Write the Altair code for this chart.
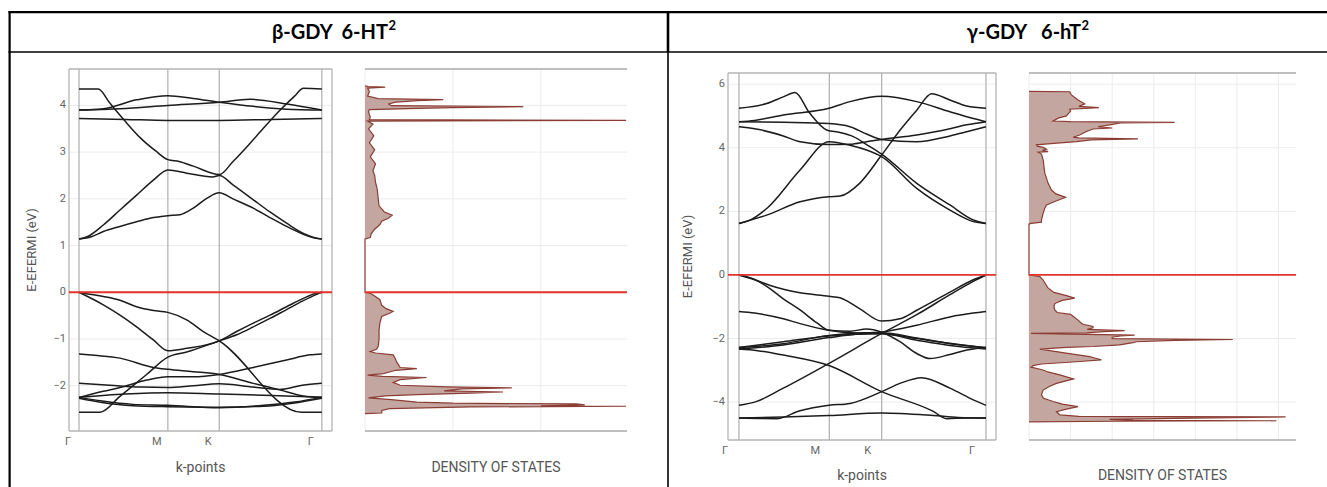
import altair as alt
import pandas as pd

W, H = 1327, 487

# k-path positions (Γ, M, K, Γ) and labels
KPTS = [0.0, 0.577, 0.911, 1.577]
KLAB = ["Γ", "M", "K", "Γ"]

# ---------------- β-GDY 6-HT2 band structure (k, E) ----------------
beta_c1 = [(0, 1.14), (0.08, 1.19), (0.158, 1.3), (0.266, 1.41), (0.374, 1.51), (0.483, 1.6), (0.577, 1.64),
           (0.656, 1.66), (0.742, 1.8), (0.829, 2.01), (0.911, 2.13), (1.0, 2.0), (1.132, 1.8), (1.24, 1.6),
           (1.348, 1.41), (1.457, 1.24), (1.53, 1.16), (1.577, 1.14)]
beta_c2 = [(0, 1.14), (0.06, 1.2), (0.158, 1.44), (0.266, 1.76), (0.374, 2.08), (0.483, 2.4), (0.577, 2.62),
           (0.7, 2.55), (0.868, 2.47), (0.911, 2.5), (1.0, 2.3), (1.132, 1.98), (1.24, 1.72), (1.348, 1.48),
           (1.457, 1.26), (1.53, 1.17), (1.577, 1.14)]
beta_c3 = [(0, 4.35), (0.125, 4.35), (0.2, 4.05), (0.3, 3.66), (0.4, 3.3), (0.5, 3.02), (0.577, 2.84),
           (0.65, 2.8), (0.742, 2.7), (0.911, 2.52), (1.0, 2.8), (1.1, 3.15), (1.2, 3.52), (1.3, 3.88),
           (1.4, 4.2), (1.457, 4.37), (1.577, 4.35)]
beta_c4 = [(0, 3.72), (0.3, 3.7), (0.577, 3.68), (0.911, 3.68), (1.25, 3.7), (1.577, 3.72)]
beta_c5 = [(0, 3.9), (0.266, 3.93), (0.577, 4.0), (0.911, 4.07), (1.11, 4.13), (1.35, 4.03), (1.577, 3.9)]
beta_c6 = [(0, 3.9), (0.158, 3.93), (0.374, 4.12), (0.577, 4.21), (0.742, 4.15), (0.911, 4.07), (1.132, 3.98),
           (1.348, 3.92), (1.577, 3.9)]
beta_v1 = [(0, 0), (0.05, -0.03), (0.158, -0.09), (0.266, -0.17), (0.374, -0.31), (0.483, -0.39), (0.577, -0.43),
           (0.699, -0.59), (0.807, -0.84), (0.911, -1.04), (1.446, -2.57), (1.577, -2.57)]
beta_v2 = [(0, 0), (0.158, -0.27), (0.266, -0.49), (0.374, -0.74), (0.483, -1.02), (0.577, -1.25), (0.699, -1.2),
           (0.911, -1.04), (1.024, -0.84), (1.132, -0.66), (1.24, -0.49), (1.348, -0.31), (1.457, -0.13),
           (1.54, -0.02), (1.577, 0)]
beta_v3 = [(0, -2.57), (0.136, -2.57), (0.266, -2.23), (0.439, -1.76), (0.577, -1.39), (0.699, -1.28),
           (0.911, -1.04), (1.024, -0.91), (1.132, -0.74), (1.24, -0.56), (1.348, -0.37), (1.457, -0.18),
           (1.54, -0.05), (1.577, 0)]
beta_v4 = [(0, -1.32), (0.1, -1.35), (0.266, -1.41), (0.483, -1.61), (0.577, -1.65), (0.742, -1.7), (0.911, -1.76),
           (1.132, -1.95), (1.305, -2.09), (1.457, -2.22), (1.577, -2.25)]
beta_v5 = [(0, -2.25), (0.158, -2.12), (0.266, -2.04), (0.439, -1.88), (0.577, -1.81), (0.742, -1.81),
           (0.911, -1.76), (1.132, -1.61), (1.348, -1.45), (1.5, -1.34), (1.577, -1.32)]
beta_v6 = [(0, -1.95), (0.2, -1.99), (0.4, -2.03), (0.577, -2.04), (0.742, -2.0), (0.911, -1.96), (1.132, -2.03),
           (1.3, -2.08), (1.45, -1.99), (1.577, -1.95)]
beta_v7 = [(0, -2.25), (0.3, -2.18), (0.577, -2.15), (0.911, -2.18), (1.25, -2.21), (1.577, -2.25)]
beta_v8 = [(0, -2.25), (0.15, -2.33), (0.35, -2.4), (0.577, -2.42), (0.911, -2.47), (1.2, -2.42), (1.4, -2.35),
           (1.577, -2.25)]
beta_v9 = [(0, -2.27), (0.15, -2.36), (0.35, -2.43), (0.577, -2.45), (0.911, -2.46), (1.2, -2.44), (1.4, -2.37),
           (1.577, -2.27)]

# ---------------- γ-GDY 6-hT2 band structure (k, E) ----------------
g_c1 = [(0, 1.62), (0.177, 1.88), (0.39, 2.3), (0.575, 2.46), (0.645, 2.48), (0.77, 2.88), (0.911, 3.77),
        (1.028, 4.55), (1.135, 5.18), (1.23, 5.7), (1.347, 5.5), (1.454, 5.31), (1.577, 5.24)]
g_c2 = [(0, 1.62), (0.06, 1.7), (0.177, 2.09), (0.39, 3.3), (0.575, 4.19), (0.709, 4.08), (0.815, 3.93),
        (0.911, 3.72), (1.135, 2.72), (1.347, 2.04), (1.496, 1.68), (1.577, 1.62)]
g_c3 = [(0, 5.24), (0.177, 5.39), (0.283, 5.6), (0.358, 5.74), (0.45, 5.1), (0.56, 4.56), (0.645, 4.48),
        (0.73, 4.35), (0.815, 4.1), (0.911, 3.8), (1.135, 2.88), (1.347, 2.2), (1.496, 1.73), (1.577, 1.62)]
g_c4 = [(0, 4.82), (0.283, 4.8), (0.575, 4.76), (0.709, 4.66), (0.815, 4.43), (0.911, 4.26), (1.135, 4.19),
        (1.347, 4.37), (1.454, 4.5), (1.577, 4.66)]
g_c5 = [(0, 4.82), (0.1, 4.86), (0.283, 5.03), (0.575, 5.24), (0.709, 5.45), (0.911, 5.62), (1.135, 5.45),
        (1.347, 5.13), (1.496, 4.92), (1.577, 4.82)]
g_c6 = [(0, 4.66), (0.1, 4.6), (0.283, 4.37), (0.39, 4.19), (0.575, 4.1), (0.709, 4.11), (0.815, 4.19),
        (0.911, 4.26), (1.135, 4.4), (1.347, 4.6), (1.454, 4.72), (1.577, 4.82)]
g_v1 = [(0, 0), (0.1, -0.15), (0.2, -0.33), (0.39, -0.56), (0.575, -0.67), (0.645, -0.72), (0.77, -1.06),
        (0.911, -1.45), (1.028, -1.38), (1.135, -1.11), (1.347, -0.54), (1.496, -0.15), (1.577, 0)]
g_v2 = [(0, 0), (0.08, -0.1), (0.177, -0.36), (0.283, -0.75), (0.39, -1.1), (0.496, -1.5), (0.575, -1.74),
        (0.709, -1.77), (0.815, -1.7), (0.911, -1.8), (1.028, -2.1), (1.135, -2.47), (1.22, -2.63),
        (1.347, -2.5), (1.454, -2.36), (1.577, -2.28)]
g_v3 = [(0, -1.15), (0.1, -1.2), (0.283, -1.38), (0.39, -1.53), (0.575, -1.74), (0.709, -1.82), (0.911, -1.84),
        (1.135, -2.0), (1.347, -2.16), (1.577, -2.28)]
g_v4 = [(0, -2.28), (0.283, -2.16), (0.575, -1.9), (0.709, -1.84), (0.911, -1.79), (1.135, -1.58),
        (1.347, -1.32), (1.496, -1.2), (1.577, -1.15)]
g_v5 = [(0, -2.28), (0.283, -2.1), (0.575, -1.92), (0.911, -1.85), (1.135, -2.05), (1.347, -2.22), (1.577, -2.33)]
g_v6 = [(0, -2.33), (0.283, -2.2), (0.575, -1.97), (0.911, -1.82), (1.135, -1.98), (1.347, -2.15), (1.577, -2.3)]
g_v7 = [(0, -2.33), (0.12, -2.38), (0.283, -2.52), (0.575, -2.85), (0.911, -3.67), (1.241, -4.29),
        (1.326, -4.52), (1.45, -4.5), (1.577, -4.5)]
g_v8 = [(0, -4.1), (0.1, -4.0), (0.283, -3.56), (0.575, -2.78), (0.911, -1.84), (1.135, -1.25), (1.347, -0.62),
        (1.496, -0.2), (1.577, 0)]
g_v9 = [(0, -4.5), (0.24, -4.52), (0.39, -4.27), (0.575, -4.1), (0.709, -4.04), (0.911, -3.67), (1.028, -3.41),
        (1.166, -3.23), (1.347, -3.56), (1.496, -3.93), (1.577, -4.1)]
g_v10 = [(0, -4.5), (0.283, -4.47), (0.575, -4.42), (0.911, -4.34), (1.241, -4.42), (1.4, -4.48), (1.577, -4.5)]

# ---------------- density of states (E, DOS) ----------------
beta_dos = [(-2.60, 0), (-2.585, 1.9), (-2.53, 1.9), (-2.49, 2.8), (-2.455, 12), (-2.44, 29.7), (-2.43, 20),
            (-2.41, 25), (-2.39, 24), (-2.375, 10), (-2.35, 5.9), (-2.30, 3.0), (-2.26, 0.4), (-2.22, 2.3),
            (-2.19, 5.9), (-2.16, 12), (-2.135, 15.7), (-2.11, 9.0), (-2.07, 11.0), (-2.045, 16.7),
            (-2.025, 9.3), (-1.99, 4.0), (-1.93, 3.2), (-1.87, 4.0), (-1.825, 7.0), (-1.80, 2.0),
            (-1.775, 0.3), (-1.74, 2.1), (-1.67, 3.5), (-1.635, 5.9), (-1.61, 4.0), (-1.55, 3.8), (-1.49, 3.6),
            (-1.40, 3.4), (-1.34, 3.2), (-1.30, 1.2), (-1.27, 0.6), (-1.22, 1.3), (-1.16, 1.5), (-1.0, 1.6),
            (-0.81, 1.6), (-0.65, 1.7), (-0.52, 1.9), (-0.45, 2.8), (-0.41, 3.2), (-0.35, 2.4), (-0.28, 1.9),
            (-0.16, 1.7), (-0.08, 1.1), (-0.02, 0.6), (0.0, 0.0), (1.14, 0.0), (1.17, 0.6), (1.25, 0.7),
            (1.35, 1.1), (1.45, 1.7), (1.52, 1.9), (1.58, 2.6), (1.65, 3.1), (1.72, 2.2), (1.85, 1.6),
            (2.0, 1.5), (2.2, 1.4), (2.35, 1.2), (2.5, 1.1), (2.6, 0.9), (2.75, 1.2), (2.9, 0.6), (3.05, 1.1),
            (3.2, 0.5), (3.35, 1.0), (3.5, 0.4), (3.6, 0.9), (3.665, 0.3), (3.68, 29.7), (3.695, 0.5),
            (3.75, 0.6), (3.8, 0.5), (3.87, 0.4), (3.91, 0.5), (3.935, 6.0), (3.955, 10.0), (3.975, 18.0),
            (3.995, 3.0), (4.03, 2.7), (4.07, 3.5), (4.105, 6.0), (4.125, 8.9), (4.145, 1.5), (4.2, 0.3),
            (4.3, 0.5), (4.37, 0.3), (4.39, 2.3), (4.405, 0.4), (4.42, 0.0)]
g_dos = [(-4.62, 0), (-4.60, 20), (-4.585, 59.5), (-4.57, 25), (-4.54, 19.4), (-4.51, 35), (-4.465, 61.7),
         (-4.445, 12), (-4.40, 7.4), (-4.35, 7.0), (-4.30, 6.6), (-4.22, 9.0), (-4.14, 11.8), (-4.06, 8.0),
         (-3.98, 5.8), (-3.88, 3.5), (-3.77, 3.0), (-3.62, 3.4), (-3.50, 5.0), (-3.41, 6.6), (-3.27, 10.7),
         (-3.14, 7.4), (-3.05, 4.5), (-2.99, 3.4), (-2.90, 0.5), (-2.85, 1.0), (-2.80, 3.0), (-2.73, 11.4),
         (-2.67, 17.4), (-2.62, 16.0), (-2.57, 14.6), (-2.45, 8.5), (-2.38, 5.0), (-2.33, 2.6), (-2.28, 9.0),
         (-2.25, 15.4), (-2.20, 21.8), (-2.13, 25.0), (-2.10, 25.8), (-2.06, 35.0), (-2.03, 49.0), (-2.00, 20.0),
         (-1.96, 20.0), (-1.92, 22.0), (-1.89, 25.4), (-1.86, 10.0), (-1.84, 0.5), (-1.82, 13.8), (-1.78, 18.0),
         (-1.75, 23.0), (-1.71, 14.0), (-1.66, 15.4), (-1.62, 15.4), (-1.55, 13.0), (-1.52, 12.6), (-1.42, 11.8),
         (-1.30, 10.6), (-1.24, 10.0), (-1.18, 6.8), (-1.10, 6.2), (-1.0, 6.0), (-0.90, 6.2), (-0.80, 8.0),
         (-0.73, 11.0), (-0.65, 9.0), (-0.55, 6.0), (-0.40, 4.5), (-0.16, 3.4), (-0.05, 2.6), (-0.01, 0.5),
         (0.0, 0.0), (1.60, 0.0), (1.62, 0.5), (1.66, 3.0), (1.73, 3.0), (1.94, 3.4), (2.10, 3.8), (2.20, 4.2),
         (2.31, 6.2), (2.44, 8.8), (2.55, 6.5), (2.67, 5.4), (2.88, 4.6), (3.20, 3.8), (3.62, 3.4), (3.80, 3.0),
         (3.86, 2.2), (3.88, 4.6), (3.92, 3.2), (3.95, 4.2), (4.01, 3.4), (4.05, 2.0), (4.09, 1.8), (4.14, 6.0),
         (4.19, 11.4), (4.25, 15.0), (4.28, 26.2), (4.31, 12.0), (4.33, 10.6), (4.40, 12.2), (4.51, 13.8),
         (4.59, 15.4), (4.62, 20.0), (4.66, 16.6), (4.72, 19.4), (4.78, 22.0), (4.80, 35.0), (4.82, 10.0),
         (4.84, 5.8), (4.93, 7.0), (5.00, 9.0), (5.08, 9.5), (5.15, 10.0), (5.21, 9.8), (5.26, 16.8),
         (5.30, 12.0), (5.38, 13.4), (5.50, 11.8), (5.66, 10.2), (5.76, 9.8), (5.77, 0.0)]

beta_bands = {"c1": beta_c1, "c2": beta_c2, "c3": beta_c3, "c4": beta_c4, "c5": beta_c5, "c6": beta_c6,
              "v1": beta_v1, "v2": beta_v2, "v3": beta_v3, "v4": beta_v4, "v5": beta_v5, "v6": beta_v6,
              "v7": beta_v7, "v8": beta_v8, "v9": beta_v9}
gamma_bands = {"c1": g_c1, "c2": g_c2, "c3": g_c3, "c4": g_c4, "c5": g_c5, "c6": g_c6,
               "v1": g_v1, "v2": g_v2, "v3": g_v3, "v4": g_v4, "v5": g_v5, "v6": g_v6,
               "v7": g_v7, "v8": g_v8, "v9": g_v9, "v10": g_v10}

# ---------------- panel geometry (pixel ranges of each panel) ----------------
LEFT = dict(xdom=[-0.065, 1.643], xr=[69, 332], ydom=[-2.97, 4.78], yr=[431, 69],
            yticks=[-2, -1, 0, 1, 2, 3, 4], ylabx=66, ytitx=32, klaby=442, koff=-11, ktity=468,
            dxdom=[0, 29.8], dxr=[365, 627], dgrid=[0, 10, 20], dtity=468)
RIGHT = dict(xdom=[-0.070, 1.641], xr=[728, 996], ydom=[-5.19, 6.35], yr=[440, 73],
             yticks=[-4, -2, 0, 2, 4, 6], ylabx=725, ytitx=688, klaby=451, koff=-14, ktity=476,
             dxdom=[0, 64.2], dxr=[1029, 1296], dgrid=[0, 10, 20, 30, 40, 50, 60], dtity=476)

FONT = "Roboto"
LINE = "#1c1c1c"
RED = "#e5322b"
GRID = "#ececec"
KLINE = "#b4b4b4"
FILL = "#c4a6a1"
EDGE = "#8b3d34"
TXT = "#666666"
TTL = "#555555"


def fmt(v):
    return ("\u2212" + str(abs(v))) if v < 0 else str(v)


def band_panel(bands, P):
    xs = alt.Scale(domain=P["xdom"], range=P["xr"], nice=False, zero=False)
    ys = alt.Scale(domain=P["ydom"], range=P["yr"], nice=False, zero=False)
    x0, x1 = P["xdom"]
    y0, y1 = P["ydom"]
    X = lambda f: alt.X(f, scale=xs, axis=None)
    Y = lambda f: alt.Y(f, scale=ys, axis=None)
    grid = alt.Chart(pd.DataFrame({"y": P["yticks"], "a": x0, "b": x1})).mark_rule(
        color=GRID, strokeWidth=1).encode(x=X("a:Q"), x2=alt.X2("b"), y=Y("y:Q"))
    kl = alt.Chart(pd.DataFrame({"k": KPTS, "a": y0, "b": y1})).mark_rule(
        color=KLINE, strokeWidth=1.3).encode(x=X("k:Q"), y=Y("a:Q"), y2=alt.Y2("b"))
    fv = alt.Chart(pd.DataFrame({"x": [x0, x1], "a": y0, "b": y1})).mark_rule(
        color=KLINE, strokeWidth=1.3).encode(x=X("x:Q"), y=Y("a:Q"), y2=alt.Y2("b"))
    fh = alt.Chart(pd.DataFrame({"y": [y0, y1], "a": x0, "b": x1})).mark_rule(
        color=KLINE, strokeWidth=1.3).encode(x=X("a:Q"), x2=alt.X2("b"), y=Y("y:Q"))
    rows = [{"band": n, "k": k, "E": e} for n, pts in bands.items() for k, e in pts]
    lines = alt.Chart(pd.DataFrame(rows)).mark_line(
        color=LINE, strokeWidth=1.5, interpolate="monotone").encode(
        x=X("k:Q"), y=Y("E:Q"), detail="band:N")
    fermi = alt.Chart(pd.DataFrame({"y": [0.0], "a": x0, "b": x1})).mark_rule(
        color=RED, strokeWidth=1.8).encode(x=X("a:Q"), x2=alt.X2("b"), y=Y("y:Q"))
    # tick labels and titles
    ylab = alt.Chart(pd.DataFrame({"E": P["yticks"], "t": [fmt(v) for v in P["yticks"]]})).mark_text(
        font=FONT, fontSize=11, color=TXT, align="right", baseline="middle").encode(
        x=alt.value(P["ylabx"]), y=Y("E:Q"), text="t:N")
    klab = alt.Chart(pd.DataFrame({"k": KPTS, "t": KLAB})).mark_text(
        font=FONT, fontSize=11, color=TXT, align="center", baseline="middle", dx=P["koff"]).encode(
        x=X("k:Q"), y=alt.value(P["klaby"]), text="t:N")
    ktit = alt.Chart(pd.DataFrame({"x": [(x0 + x1) / 2], "t": ["k-points"]})).mark_text(
        font=FONT, fontSize=14, color=TTL, align="center", baseline="middle").encode(
        x=X("x:Q"), y=alt.value(P["ktity"]), text="t:N")
    ytit = alt.Chart(pd.DataFrame({"E": [(y0 + y1) / 2], "t": ["E-EFERMI (eV)"]})).mark_text(
        font=FONT, fontSize=13, color=TTL, align="center", baseline="middle", angle=270).encode(
        x=alt.value(P["ytitx"]), y=Y("E:Q"), text="t:N")
    return alt.layer(grid, kl, fv, fh, lines, fermi, ylab, klab, ktit, ytit)


def dos_panel(dos, P):
    xs = alt.Scale(domain=P["dxdom"], range=P["dxr"], nice=False, zero=False)
    ys = alt.Scale(domain=P["ydom"], range=P["yr"], nice=False, zero=False)
    x0, x1 = P["dxdom"]
    y0, y1 = P["ydom"]
    X = lambda f: alt.X(f, scale=xs, axis=None)
    Y = lambda f: alt.Y(f, scale=ys, axis=None)
    hg = alt.Chart(pd.DataFrame({"y": P["yticks"], "a": x0, "b": x1})).mark_rule(
        color=GRID, strokeWidth=1).encode(x=X("a:Q"), x2=alt.X2("b"), y=Y("y:Q"))
    vg = alt.Chart(pd.DataFrame({"x": P["dgrid"], "a": y0, "b": y1})).mark_rule(
        color=GRID, strokeWidth=1).encode(x=X("x:Q"), y=Y("a:Q"), y2=alt.Y2("b"))
    fh = alt.Chart(pd.DataFrame({"y": [y0, y1], "a": x0, "b": x1})).mark_rule(
        color="#aaaaaa", strokeWidth=1.3).encode(x=X("a:Q"), x2=alt.X2("b"), y=Y("y:Q"))
    df = pd.DataFrame({"E": [e for e, v in dos], "v": [v for e, v in dos]})
    df["base"] = 0.0
    area = alt.Chart(df).mark_area(orient="horizontal", color=FILL, opacity=1).encode(
        x=X("v:Q"), x2=alt.X2("base"), y=Y("E:Q"))
    edge = alt.Chart(df).mark_line(color=EDGE, strokeWidth=1.2).encode(
        x=X("v:Q"), y=Y("E:Q"), order="E:Q")
    fermi = alt.Chart(pd.DataFrame({"y": [0.0], "a": x0, "b": x1})).mark_rule(
        color=RED, strokeWidth=1.8).encode(x=X("a:Q"), x2=alt.X2("b"), y=Y("y:Q"))
    tit = alt.Chart(pd.DataFrame({"x": [(x0 + x1) / 2], "t": ["DENSITY OF STATES"]})).mark_text(
        font=FONT, fontSize=14, color=TTL, align="center", baseline="middle").encode(
        x=X("x:Q"), y=alt.value(P["dtity"]), text="t:N")
    return alt.layer(hg, vg, area, edge, fermi, fh, tit)


# ---------------- table frame (thin filled bars) and headers ----------------
ONE = pd.DataFrame({"d": [0]})


def bar(xa, xb, ya, yb):
    return alt.Chart(ONE).mark_rect(color="black", strokeWidth=0).encode(
        x=alt.value(xa), x2=alt.value(xb), y=alt.value(ya), y2=alt.value(yb))


HEAD_L = "β-GDY\u00a0\u00a06-HT"
HEAD_R = "γ-GDY\u00a0\u00a0\u00a06-hT"
SUP = "2"


def header(txt, xend):
    main = alt.Chart(ONE).mark_text(text=txt, font="Lato", fontSize=20, fontWeight="bold",
                                    color="black", align="right", baseline="middle").encode(
        x=alt.value(xend), y=alt.value(33))
    sup = alt.Chart(ONE).mark_text(text=SUP, font="Lato", fontSize=13, fontWeight="bold",
                                   color="black", align="left", baseline="middle").encode(
        x=alt.value(xend + 0.5), y=alt.value(26))
    return [main, sup]


frame = [bar(8.5, W, 11, 13.2), bar(8.5, W, 51.2, 52.8), bar(8.5, 10.7, 11, H),
         bar(666.7, 669.3, 11, 52), bar(667.2, 668.8, 52, H)] + header(HEAD_L, 388) + header(HEAD_R, 1081)

chart = alt.layer(
    band_panel(beta_bands, LEFT), dos_panel(beta_dos, LEFT),
    band_panel(gamma_bands, RIGHT), dos_panel(g_dos, RIGHT),
    *frame
).resolve_scale(x="independent", y="independent").properties(
    width=W, height=H, padding=0, autosize=alt.AutoSizeParams(type="none"),
    background="white"
).configure_view(stroke=None)

chart.save("out.html", embed_options={"renderer": "svg", "actions": False})
